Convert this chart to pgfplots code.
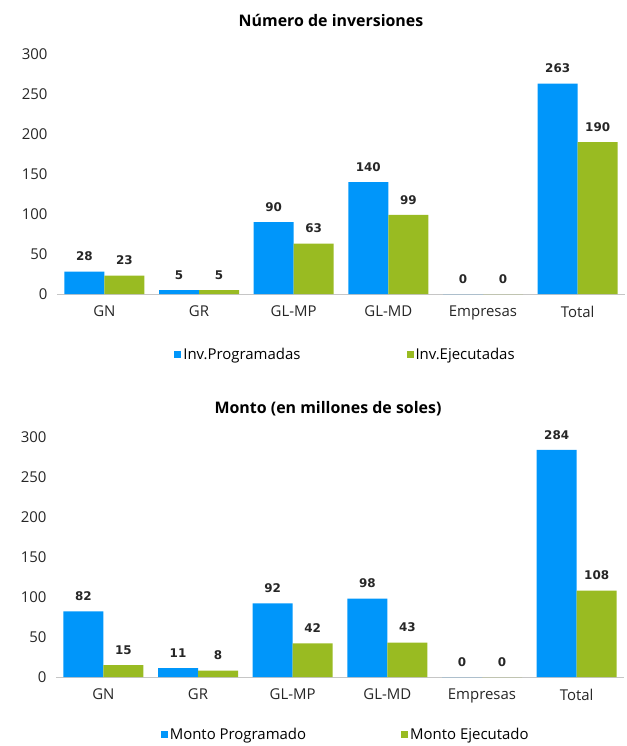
\documentclass[border=0pt]{standalone}
\usepackage{pgfplots}
\pgfplotsset{compat=1.18}
\usepackage{fontspec}
\setmainfont{Open Sans}
\newfontfamily\labfont{DejaVu Sans}
\definecolor{cblue}{RGB}{0,150,250}
\definecolor{cgreen}{RGB}{153,187,34}
\pgfplotsset{
  mybar/.style={
    scale only axis, width=568bp, height=240bp,
    ybar=0pt, bar width=40bp,
    xmin=-0.5, xmax=5.5, ymin=0, ymax=300,
    xtick=data,
    xticklabels={GN,GR,GL-MP,GL-MD,Empresas,Total},
    ytick={0,50,...,300},
    axis x line=bottom, axis y line*=left,
    x axis line style={gray!45, line width=0.8pt, -},
    y axis line style={draw=none},
    xtick style={draw=none},
    ytick style={draw=none},
    /pgf/number format/assume math mode=true,
    tick label style={font=\fontsize{15}{17}\selectfont, text=black!85},
    xticklabel style={yshift=-6bp},
    yticklabel style={xshift=-6bp},
    nodes near coords,
    every node near coord/.append style={font=\labfont\bfseries\fontsize{12}{14}\selectfont, anchor=south, yshift=7bp, text=black!85},
    legend columns=2,
    legend style={draw=none, fill=none, font=\fontsize{15}{17}\selectfont, anchor=center},
    legend image code/.code={\fill[##1] (0bp,-3.5bp) rectangle (7bp,3.5bp);},
  }
}
\begin{document}
\begin{tikzpicture}
\path[use as bounding box] (0,0) rectangle (627bp,-746bp);
% top chart
\begin{axis}[mybar, at={(57bp,-294bp)}, anchor=south west,
  legend style={at={(0.508,-0.254)}, /tikz/every even column/.append style={column sep=104bp}},
]
\addplot[fill=cblue, draw=none] coordinates {(0,28) (1,5) (2,90) (3,140) (4,0) (5,263)};
\addplot[fill=cgreen, draw=none] coordinates {(0,23) (1,5) (2,63) (3,99) (4,0) (5,190)};
\legend{Inv.Programadas, Inv.Ejecutadas}
\end{axis}
\node[font=\bfseries\fontsize{16}{18}\selectfont, text=black] at (331bp,-20bp) {Número de inversiones};
% bottom chart
\begin{axis}[mybar, at={(56bp,-677bp)}, anchor=south west,
  legend style={at={(0.51,-0.238)}, /tikz/every even column/.append style={column sep=93bp}},
]
\addplot[fill=cblue, draw=none] coordinates {(0,82) (1,11) (2,92) (3,98) (4,0) (5,284)};
\addplot[fill=cgreen, draw=none] coordinates {(0,15) (1,8) (2,42) (3,43) (4,0) (5,108)};
\legend{Monto Programado, Monto Ejecutado}
\end{axis}
\node[font=\bfseries\fontsize{16}{18}\selectfont, text=black] at (328bp,-409bp) {Monto (en millones de soles)};
\end{tikzpicture}
\end{document}
